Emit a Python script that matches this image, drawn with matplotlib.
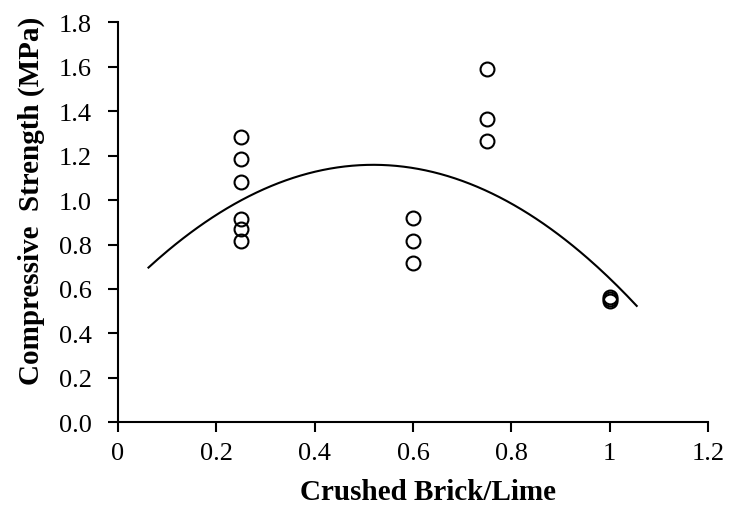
import matplotlib.pyplot as plt
import numpy as np

# data
ratio = [0.25, 0.25, 0.25, 0.25, 0.25, 0.25,
         0.6, 0.6, 0.6,
         0.75, 0.75, 0.75,
         1.0, 1.0, 1.0]
strength = [1.282, 1.183, 1.081, 0.915, 0.868, 0.818,
            0.919, 0.818, 0.716,
            1.591, 1.365, 1.264,
            0.565, 0.556, 0.547]
xticks = [0, 0.2, 0.4, 0.6, 0.8, 1, 1.2]
xticklabels = ["0", "0.2", "0.4", "0.6", "0.8", "1", "1.2"]
yticks = [0.0, 0.2, 0.4, 0.6, 0.8, 1.0, 1.2, 1.4, 1.6, 1.8]
trend_range = [0.062, 1.055]

plt.rcParams['font.family'] = ['Liberation Serif', 'DejaVu Serif']

fig = plt.figure(figsize=(7.3, 5.06), dpi=100)
ax = fig.add_axes([118 / 730, 1 - 423.3 / 506, 590 / 730, 400 / 506])

# second order polynomial trendline (like the spreadsheet one)
coef = np.polyfit(ratio, strength, 2)
xs = np.linspace(trend_range[0], trend_range[1], 200)
ax.plot(xs, np.polyval(coef, xs), color='black', linewidth=1.5)

ax.plot(ratio, strength, linestyle='none', marker='o', markersize=10,
        markerfacecolor='none', markeredgecolor='black', markeredgewidth=1.5)

ax.set_xlim(0, 1.2)
ax.set_ylim(0, 1.8)
ax.set_xticks(xticks)
ax.set_xticklabels(xticklabels)
ax.set_yticks(yticks)
ax.set_yticklabels(["%.1f" % v for v in yticks])
ax.tick_params(direction='out', length=7, width=1.5, labelsize=19)
ax.tick_params(axis='x', pad=7)
ax.tick_params(axis='y', pad=12)

ax.spines['top'].set_visible(False)
ax.spines['right'].set_visible(False)
ax.spines['left'].set_linewidth(1.5)
ax.spines['bottom'].set_linewidth(1.5)

ax.set_xlabel("Crushed Brick/Lime", fontsize=21, fontweight='bold')
ax.set_ylabel("Compressive  Strength (MPa)", fontsize=21, fontweight='bold')
ax.xaxis.set_label_coords(0.525, -0.14)
ax.yaxis.set_label_coords(-0.124, 0.555)

fig.savefig("out.png", dpi=100)
